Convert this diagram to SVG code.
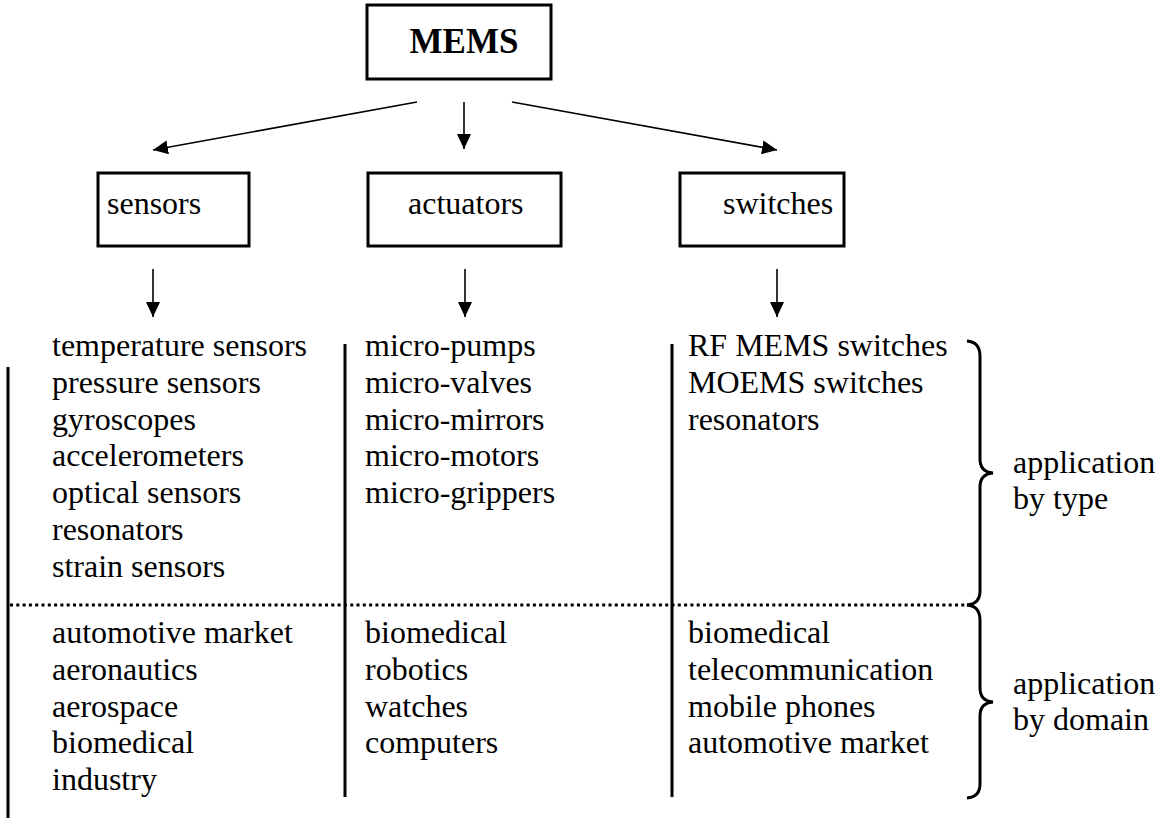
<svg xmlns="http://www.w3.org/2000/svg" width="1157" height="821" viewBox="0 0 1157 821">
<defs>
<marker id="ah" markerWidth="16" markerHeight="14" refX="15" refY="7" orient="auto" markerUnits="userSpaceOnUse">
<path d="M0,0 L15,7 L0,14 Z" fill="#000"/>
</marker>
<style>
text{font-family:"Liberation Serif","Times New Roman",serif;font-size:32px;fill:#000}
.box{fill:#fff;stroke:#000;stroke-width:3}
.arr{stroke:#000;stroke-width:1.6;fill:none;marker-end:url(#ah)}
.vl{stroke:#000;stroke-width:3;fill:none}
.dot{stroke:#000;stroke-width:3;stroke-dasharray:3 3.3;fill:none}
.brace{stroke:#000;stroke-width:3;fill:none}
</style>
</defs>
<rect width="1157" height="821" fill="#fff"/>
<g id="mems">
<rect class="box" x="367" y="5" width="184" height="74"/>
<text x="464" y="53" text-anchor="middle" style="font-weight:bold;font-size:35px">MEMS</text>
</g>
<g id="sensors">
<rect class="box" x="98" y="173" width="151" height="73"/>
<text x="107" y="214">sensors</text>
</g>
<g id="actuators">
<rect class="box" x="368" y="173" width="193" height="73"/>
<text x="408" y="214">actuators</text>
</g>
<g id="switches">
<rect class="box" x="680" y="173" width="164" height="73"/>
<text x="723" y="214">switches</text>
</g>
<g id="connectors">
<line class="arr" x1="417" y1="102" x2="153" y2="150"/>
<line class="arr" x1="464" y1="102" x2="464" y2="149"/>
<line class="arr" x1="512" y1="102" x2="777" y2="150"/>
<line class="arr" x1="153" y1="269" x2="153" y2="317"/>
<line class="arr" x1="465" y1="269" x2="465" y2="317"/>
<line class="arr" x1="777" y1="269" x2="777" y2="317"/>
</g>
<g id="frame">
<line class="vl" x1="8" y1="367" x2="8" y2="818"/>
<line class="vl" x1="345" y1="344" x2="345" y2="797"/>
<line class="vl" x1="672" y1="344" x2="672" y2="797"/>
<line class="dot" x1="10" y1="605" x2="968" y2="605"/>
<path class="brace" d="M967,341 Q980,342 980,356 L980,459 Q980,472 993,473 Q980,474 980,487 L980,591 Q980,604 967,605"/>
<path class="brace" d="M967,605 Q980,606 980,620 L980,688 Q980,701 993,702 Q980,703 980,716 L980,784 Q980,797 967,798"/>
</g>
<g id="sensors-list">
<text x="52" y="356">temperature sensors</text>
<text x="52" y="393">pressure sensors</text>
<text x="52" y="430">gyroscopes</text>
<text x="52" y="466">accelerometers</text>
<text x="52" y="503">optical sensors</text>
<text x="52" y="540">resonators</text>
<text x="52" y="577">strain sensors</text>
<text x="52" y="643">automotive market</text>
<text x="52" y="680">aeronautics</text>
<text x="52" y="717">aerospace</text>
<text x="52" y="753">biomedical</text>
<text x="52" y="790">industry</text>
</g>
<g id="actuators-list">
<text x="365" y="356">micro-pumps</text>
<text x="365" y="393">micro-valves</text>
<text x="365" y="430">micro-mirrors</text>
<text x="365" y="466">micro-motors</text>
<text x="365" y="503">micro-grippers</text>
<text x="365" y="643">biomedical</text>
<text x="365" y="680">robotics</text>
<text x="365" y="717">watches</text>
<text x="365" y="753">computers</text>
</g>
<g id="switches-list">
<text x="688" y="356">RF MEMS switches</text>
<text x="688" y="393">MOEMS switches</text>
<text x="688" y="430">resonators</text>
<text x="688" y="643">biomedical</text>
<text x="688" y="680">telecommunication</text>
<text x="688" y="717">mobile phones</text>
<text x="688" y="753">automotive market</text>
</g>
<g id="labels">
<text x="1013" y="473">application</text>
<text x="1013" y="509">by type</text>
<text x="1013" y="694">application</text>
<text x="1013" y="730">by domain</text>
</g>
</svg>
